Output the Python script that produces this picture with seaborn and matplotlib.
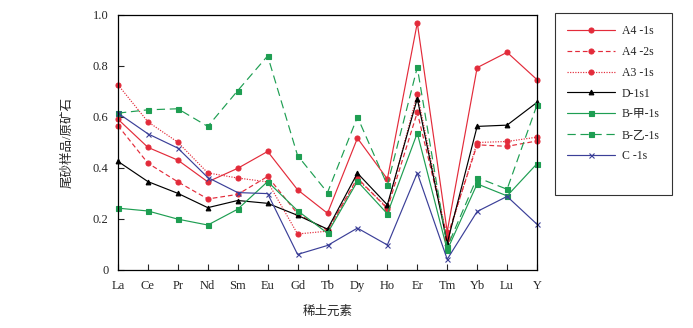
import matplotlib
matplotlib.use("Agg")
import matplotlib.pyplot as plt
import seaborn as sns
import pandas as pd
from matplotlib.lines import Line2D

elements = ["La", "Ce", "Pr", "Nd", "Sm", "Eu", "Gd", "Tb", "Dy", "Ho", "Er", "Tm", "Yb", "Lu", "Y"]

a4_1s = [0.59, 0.48, 0.43, 0.345, 0.398, 0.464, 0.314, 0.222, 0.516, 0.356, 0.967, 0.15, 0.792, 0.852, 0.745]
a4_2s = [0.565, 0.418, 0.345, 0.278, 0.296, 0.366, 0.22, 0.155, 0.36, 0.24, 0.617, 0.13, 0.49, 0.484, 0.505]
a3_1s = [0.725, 0.58, 0.50, 0.38, 0.36, 0.345, 0.141, 0.152, 0.355, 0.245, 0.689, 0.12, 0.499, 0.503, 0.52]
d_1s1 = [0.425, 0.346, 0.30, 0.244, 0.272, 0.261, 0.214, 0.16, 0.379, 0.255, 0.671, 0.105, 0.562, 0.567, 0.656]
b_jia = [0.242, 0.231, 0.199, 0.176, 0.238, 0.346, 0.232, 0.144, 0.347, 0.22, 0.536, 0.078, 0.337, 0.29, 0.416]
b_yi = [0.614, 0.627, 0.631, 0.562, 0.702, 0.838, 0.448, 0.303, 0.599, 0.332, 0.793, 0.09, 0.362, 0.316, 0.646]
c_1s = [0.614, 0.533, 0.477, 0.362, 0.303, 0.299, 0.061, 0.096, 0.164, 0.098, 0.38, 0.042, 0.229, 0.288, 0.179]

labels = ["A4 -1s", "A4 -2s", "A3 -1s", "D-1s1", "B-甲-1s", "B-乙-1s", "C -1s"]
series = [a4_1s, a4_2s, a3_1s, d_1s1, b_jia, b_yi, c_1s]
y_ticks = [0, 0.2, 0.4, 0.6, 0.8, 1.0]
y_tick_labels = ["0", "0.2", "0.4", "0.6", "0.8", "1.0"]

RED = "#e32b3a"
GREEN = "#1e9e52"
BLUE = "#3b3f98"
styles = [
    dict(color=RED, linestyle="-", marker="o", markersize=3.6, lw=0.85),
    dict(color=RED, linestyle=(0, (4, 2.5)), marker="o", markersize=3.6, lw=0.85),
    dict(color=RED, linestyle=(0, (1, 1.2)), marker="o", markersize=3.6, lw=0.85),
    dict(color="black", linestyle="-", marker="^", markersize=3.4, lw=0.85),
    dict(color=GREEN, linestyle="-", marker="s", markersize=3.6, lw=0.85),
    dict(color=GREEN, linestyle=(0, (7, 4)), marker="s", markersize=3.6, lw=0.85),
    dict(color=BLUE, linestyle="-", marker="x", markersize=3.6, lw=0.85),
]

sns.set_style("ticks")
plt.rcParams["font.family"] = ["Liberation Serif", "Noto Sans CJK SC"]
plt.rcParams["axes.linewidth"] = 0.9

fig = plt.figure(figsize=(6.93, 3.28), dpi=100)
ax = fig.add_axes([118 / 693, 1 - 270 / 328, (537 - 118) / 693, (270 - 14.5) / 328])

df = pd.DataFrame({"x": list(range(len(elements)))})
handles = []
for lab, vals, st in zip(labels, series, styles):
    d = df.assign(y=vals)
    sns.lineplot(data=d, x="x", y="y", ax=ax, color=st["color"], linestyle=st["linestyle"],
                 marker=st["marker"], markersize=st["markersize"], linewidth=st["lw"],
                 markeredgecolor=st["color"], markerfacecolor=st["color"], markeredgewidth=0.8,
                 clip_on=False)
    handles.append(Line2D([], [], color=st["color"], linestyle=st["linestyle"], marker=st["marker"],
                          markersize=st["markersize"], linewidth=st["lw"], markeredgecolor=st["color"],
                          markerfacecolor=st["color"], markeredgewidth=0.8))

ax.set_xlim(0, len(elements) - 1)
ax.set_ylim(0, 1.0)
ax.set_xticks(range(len(elements)))
ax.set_xticklabels(elements, fontsize=9)
ax.set_yticks(y_ticks)
ax.set_yticklabels(y_tick_labels, fontsize=9)
ax.tick_params(direction="in", length=4, width=0.8, pad=7)
for s in ax.spines.values():
    s.set_visible(True)
    s.set_color("black")
ax.set_xlabel("稀土元素", fontsize=9, labelpad=10)
ax.set_ylabel("尾砂样品/原矿石", fontsize=9, labelpad=14)

handles.append(Line2D([], [], color="none"))
labels_leg = labels + [""]
leg = fig.legend(handles, labels_leg, loc="upper left", bbox_to_anchor=(555 / 693, 1 - 13 / 328),
                 frameon=True, fancybox=False, edgecolor="black", fontsize=8.5,
                 handlelength=4.0, handletextpad=0.6, labelspacing=0.74, borderpad=1.05,
                 borderaxespad=0)
leg.get_frame().set_linewidth(0.8)

fig.savefig("out.png", dpi=100, facecolor="white")
